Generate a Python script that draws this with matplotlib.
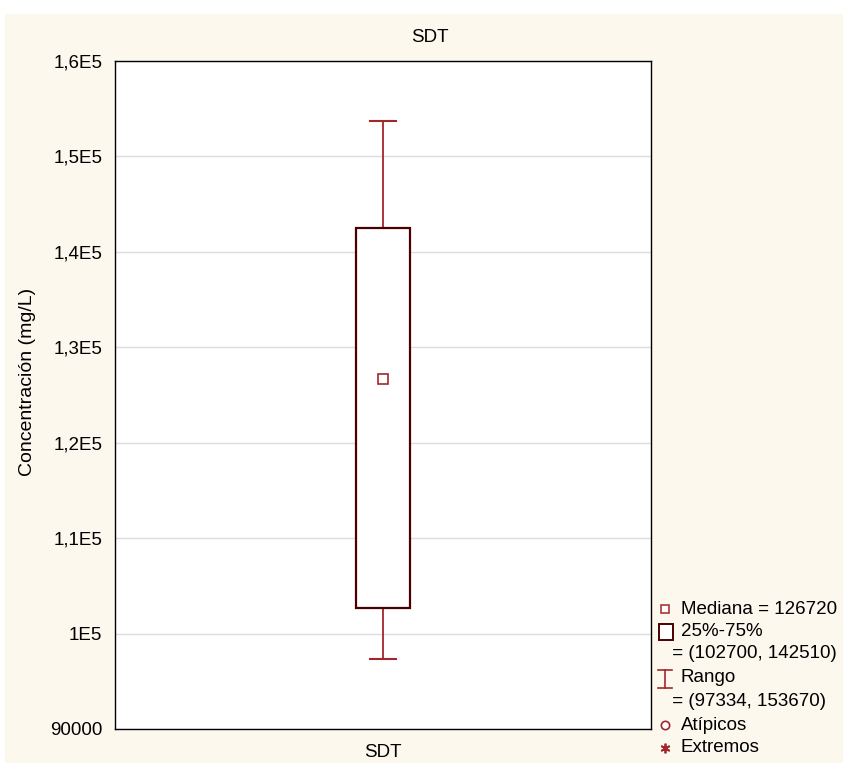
import matplotlib
matplotlib.use("Agg")
import matplotlib.pyplot as plt
from matplotlib.patches import Rectangle
from matplotlib.lines import Line2D

plt.rcParams['font.family'] = ['Liberation Sans', 'DejaVu Sans']

# Summary statistics for total dissolved solids (SDT)
categories = ["SDT"]
median = [126720]
q25 = [102700]
q75 = [142510]
range_min = [97334]
range_max = [153670]
yticks = [90000, 100000, 110000, 120000, 130000, 140000, 150000, 160000]
ytick_labels = ["90000", "1E5", "1,1E5", "1,2E5", "1,3E5", "1,4E5", "1,5E5", "1,6E5"]

W, H = 843, 763
fig = plt.figure(figsize=(W / 100, H / 100), dpi=100, facecolor="white")
cream = "#fdf8ee"
fig.patches.append(Rectangle((5 / W, 0), 1, 1 - 14 / H, transform=fig.transFigure,
                             facecolor=cream, edgecolor="none", zorder=-10))

ax = fig.add_axes([115 / W, 1 - 729 / H, (651 - 115) / W, (729 - 61) / H])
ax.set_facecolor("white")

box_col = "#4a0000"
whisk_col = "#a3262b"
for i, cat in enumerate(categories):
    bw, cw = 0.10, 0.05
    ax.add_patch(Rectangle((i - bw / 2, q25[i]), bw, q75[i] - q25[i],
                           facecolor="white", edgecolor=box_col, lw=1.6, zorder=3))
    ax.plot([i, i], [q75[i], range_max[i]], color=whisk_col, lw=1.3, zorder=2)
    ax.plot([i, i], [range_min[i], q25[i]], color=whisk_col, lw=1.3, zorder=2)
    ax.plot([i - cw / 2, i + cw / 2], [range_max[i]] * 2, color=whisk_col, lw=1.5, zorder=2)
    ax.plot([i - cw / 2, i + cw / 2], [range_min[i]] * 2, color=whisk_col, lw=1.5, zorder=2)
    ax.plot([i], [median[i]], marker="s", ms=7, mfc="white", mec=whisk_col, mew=1.2, zorder=4)

ax.set_xlim(-0.5, len(categories) - 0.5)
ax.set_ylim(yticks[0], yticks[-1])
ax.set_yticks(yticks)
ax.set_yticklabels(ytick_labels, fontsize=13.5)
ax.set_xticks(range(len(categories)))
ax.set_xticklabels(categories, fontsize=13.5)
ax.tick_params(axis="y", length=0, pad=9)
ax.tick_params(axis="x", length=0, pad=11)
ax.yaxis.grid(True, color="#dcdcdc", lw=1)
ax.set_axisbelow(True)
for s in ax.spines.values():
    s.set_color("black")
    s.set_linewidth(1)
fig.text(430 / W, 1 - 38 / H, "SDT", fontsize=13.5, ha="center", va="center")
fig.text(28 / W, 1 - 382 / H, "Concentración (mg/L)", fontsize=14, rotation=90,
         ha="center", va="center")

# Legend drawn beside the plot area
fs = 13.5
tx = 681 / W
def fy(py):
    return 1 - py / H

entries = [
    (609, f"Mediana = {median[0]}", "median"),
    (632, "25%-75%", "box"),
    (654, f" = ({q25[0]}, {q75[0]})", None),
    (678, "Rango", "range"),
    (701, f" = ({range_min[0]}, {range_max[0]})", None),
    (725, "Atípicos", "outlier"),
    (748, "Extremos", "extreme"),
]
mx = 665 / W
for py, label, kind in entries:
    x = tx if kind else 667 / W
    fig.text(x, fy(py), label, fontsize=fs, va="center", ha="left")
    if kind == "median":
        fig.add_artist(Line2D([mx], [fy(py)], marker="s", ms=6, mfc="white",
                              mec=whisk_col, mew=1.1, transform=fig.transFigure))
    elif kind == "box":
        fig.patches.append(Rectangle((659 / W, fy(640)), 14 / W, 16 / H, transform=fig.transFigure,
                                     facecolor="white", edgecolor=box_col, lw=1.4))
    elif kind == "range":
        fig.add_artist(Line2D([mx, mx], [fy(670), fy(688)], color=whisk_col, lw=1.2,
                              transform=fig.transFigure))
        for yy in (670, 688):
            fig.add_artist(Line2D([658 / W, 672 / W], [fy(yy)] * 2, color=whisk_col, lw=1.2,
                                  transform=fig.transFigure))
    elif kind == "outlier":
        fig.add_artist(Line2D([mx], [fy(py)], marker="o", ms=6, mfc="white",
                              mec=whisk_col, mew=1.2, transform=fig.transFigure))
    elif kind == "extreme":
        fig.add_artist(Line2D([mx], [fy(py)], marker=(6, 2, 0), ms=7, color=whisk_col,
                              mew=1.3, transform=fig.transFigure))

fig.savefig("out.png", dpi=100, facecolor=fig.get_facecolor())
